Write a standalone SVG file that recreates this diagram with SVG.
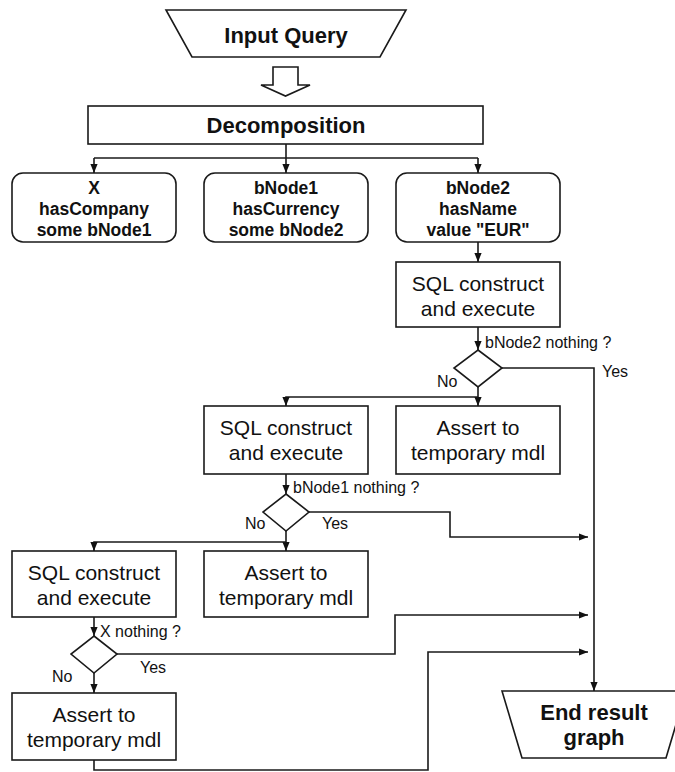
<svg xmlns="http://www.w3.org/2000/svg" width="675" height="772" viewBox="0 0 675 772">
<style>
.shape{fill:#fff;stroke:#1a1a1a;stroke-width:1.6}
.conn{fill:none;stroke:#1a1a1a;stroke-width:1.6}
.arr{marker-end:url(#ah)}
.big{font-family:"Liberation Sans",Arial,sans-serif;font-weight:bold;font-size:22px;fill:#111;text-anchor:middle}
.q{font-family:"Liberation Sans",Arial,sans-serif;font-weight:bold;font-size:17.5px;fill:#111;text-anchor:middle}
.box{font-family:"Liberation Sans",Arial,sans-serif;font-size:21px;fill:#111;text-anchor:middle}
.lbl{font-family:"Liberation Sans",Arial,sans-serif;font-size:16px;fill:#111}
</style>
<defs>
<marker id="ah" viewBox="0 0 10 10" refX="10" refY="5" markerWidth="9" markerHeight="9" markerUnits="userSpaceOnUse" orient="auto">
<path d="M0,1 L10,5 L0,9 z" fill="#111"/>
</marker>
</defs>

<g id="input">
<polygon class="shape" points="166,10 406,10 380,57 192,57"/>
<text class="big" x="286" y="43">Input Query</text>
</g>

<g id="hollow-arrow">
<path class="shape" d="M273,67 H298 V85 H310 L285.5,96 L261,85 H273 Z"/>
</g>

<g id="decomposition">
<rect class="shape" x="88" y="106" width="395" height="38"/>
<text class="big" x="286" y="133">Decomposition</text>
</g>

<g id="q1">
<rect class="shape" x="12" y="173" width="164" height="69" rx="11"/>
<text class="q" x="94" y="194">X</text>
<text class="q" x="94" y="215">hasCompany</text>
<text class="q" x="94" y="236">some bNode1</text>
</g>

<g id="q2">
<rect class="shape" x="204" y="173" width="164" height="69" rx="11"/>
<text class="q" x="286" y="194">bNode1</text>
<text class="q" x="286" y="215">hasCurrency</text>
<text class="q" x="286" y="236">some bNode2</text>
</g>

<g id="q3">
<rect class="shape" x="396" y="173" width="164" height="69" rx="11"/>
<text class="q" x="478" y="194">bNode2</text>
<text class="q" x="478" y="215">hasName</text>
<text class="q" x="478" y="236">value "EUR"</text>
</g>

<g id="sql1">
<rect class="shape" x="396" y="262" width="164" height="65"/>
<text class="box" x="478" y="291">SQL construct</text>
<text class="box" x="478" y="316">and execute</text>
</g>

<g id="d1">
<polygon class="shape" points="478,350 502,368 478,387 454,368"/>
</g>

<g id="sql2">
<rect class="shape" x="204" y="406" width="164" height="68"/>
<text class="box" x="286" y="435">SQL construct</text>
<text class="box" x="286" y="460">and execute</text>
</g>

<g id="assert1">
<rect class="shape" x="396" y="406" width="164" height="68"/>
<text class="box" x="478" y="435">Assert to</text>
<text class="box" x="478" y="460">temporary mdl</text>
</g>

<g id="d2">
<polygon class="shape" points="286,494 309,512 286,531 263,512"/>
</g>

<g id="sql3">
<rect class="shape" x="12" y="551" width="164" height="66"/>
<text class="box" x="94" y="580">SQL construct</text>
<text class="box" x="94" y="605">and execute</text>
</g>

<g id="assert2">
<rect class="shape" x="204" y="551" width="164" height="66"/>
<text class="box" x="286" y="580">Assert to</text>
<text class="box" x="286" y="605">temporary mdl</text>
</g>

<g id="d3">
<polygon class="shape" points="94,636 117,654 94,673 71,654"/>
</g>

<g id="assert3">
<rect class="shape" x="12" y="693" width="164" height="67"/>
<text class="box" x="94" y="722">Assert to</text>
<text class="box" x="94" y="747">temporary mdl</text>
</g>

<g id="end">
<polygon class="shape" points="502,691 686,691 666,758 522,758"/>
<text class="big" x="594" y="720">End result</text>
<text class="big" x="594" y="745">graph</text>
</g>

<g id="connectors">
<path class="conn" d="M286,144 V158"/>
<path class="conn" d="M94,158 H478"/>
<path class="conn arr" d="M94,158 V173"/>
<path class="conn arr" d="M286,158 V173"/>
<path class="conn arr" d="M478,158 V173"/>
<path class="conn arr" d="M478,242 V262"/>
<path class="conn arr" d="M478,327 V350"/>
<path class="conn arr" d="M502,368 H594 V691"/>
<path class="conn arr" d="M478,387 V406"/>
<path class="conn arr" d="M478,397 H286 V406"/>
<path class="conn arr" d="M286,474 V494"/>
<path class="conn arr" d="M309,512 H450 V537 H588"/>
<path class="conn arr" d="M286,531 V551"/>
<path class="conn arr" d="M286,542 H94 V551"/>
<path class="conn arr" d="M94,617 V636"/>
<path class="conn arr" d="M117,654 H395 V615 H588"/>
<path class="conn arr" d="M94,673 V693"/>
<path class="conn arr" d="M94,760 V770 H428 V652 H588"/>
</g>

<g id="labels">
<text class="lbl" x="485" y="348">bNode2 nothing ?</text>
<text class="lbl" x="602" y="377">Yes</text>
<text class="lbl" x="437" y="387">No</text>
<text class="lbl" x="293" y="493">bNode1 nothing ?</text>
<text class="lbl" x="322" y="529">Yes</text>
<text class="lbl" x="245" y="529">No</text>
<text class="lbl" x="100" y="637">X nothing ?</text>
<text class="lbl" x="140" y="673">Yes</text>
<text class="lbl" x="52" y="682">No</text>
</g>
</svg>
